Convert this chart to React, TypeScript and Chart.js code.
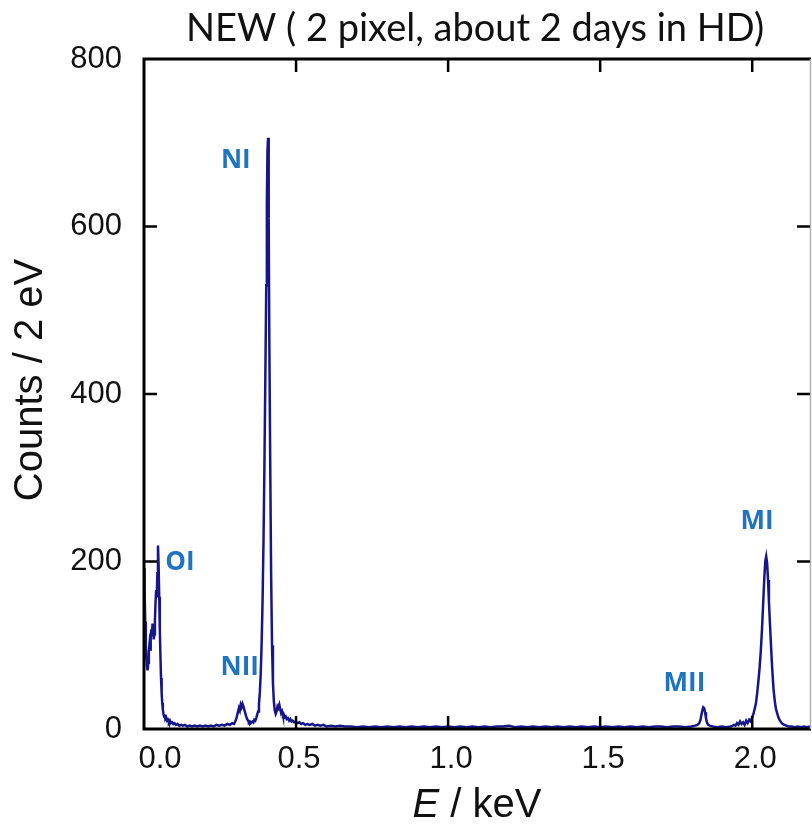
import React, { useEffect, useRef } from "react";
import { Chart, registerables } from "chart.js";
Chart.register(...registerables);

const chartTitle = "NEW ( 2 pixel, about 2 days in HD)";
const yAxisTitle = "Counts / 2 eV";
const xAxisTitleItalic = "E";
const xAxisTitleRest = " / keV";

const energyKeV = [
  0.000, 0.002, 0.004, 0.006, 0.008, 0.010, 0.012, 0.014, 0.016, 0.018,
  0.020, 0.022, 0.024, 0.026, 0.028, 0.030, 0.032, 0.034, 0.036, 0.038,
  0.040, 0.042, 0.044, 0.046, 0.048, 0.050, 0.052, 0.054, 0.056, 0.058,
  0.060, 0.062, 0.064, 0.066, 0.068, 0.070, 0.073, 0.076, 0.079, 0.082,
  0.085, 0.088, 0.092, 0.096, 0.100, 0.105, 0.110, 0.116, 0.122, 0.128,
  0.135, 0.142, 0.150, 0.158, 0.166, 0.175, 0.184, 0.193, 0.202, 0.211,
  0.220, 0.229, 0.238, 0.247, 0.256, 0.265, 0.274, 0.283, 0.290, 0.296,
  0.300, 0.304, 0.308, 0.312, 0.315, 0.318, 0.321, 0.324, 0.327, 0.330,
  0.333, 0.336, 0.339, 0.342, 0.345, 0.348, 0.351, 0.354, 0.357, 0.360,
  0.363, 0.366, 0.369, 0.372, 0.375, 0.378, 0.381, 0.384, 0.387, 0.390,
  0.393, 0.396, 0.399, 0.402, 0.404, 0.406, 0.408, 0.410, 0.412, 0.415,
  0.418, 0.421, 0.424, 0.427, 0.430, 0.433, 0.436, 0.439, 0.442, 0.445,
  0.448, 0.451, 0.454, 0.457, 0.460, 0.463, 0.466, 0.469, 0.473, 0.477,
  0.481, 0.485, 0.489, 0.494, 0.499, 0.505, 0.511, 0.517, 0.523, 0.530,
  0.537, 0.545, 0.553, 0.562, 0.571, 0.580, 0.590, 0.600, 0.615, 0.630,
  0.645, 0.660, 0.680, 0.700, 0.720, 0.740, 0.760, 0.780, 0.800, 0.820,
  0.840, 0.860, 0.880, 0.900, 0.920, 0.940, 0.960, 0.980, 1.000, 1.020,
  1.040, 1.060, 1.080, 1.100, 1.120, 1.140, 1.160, 1.180, 1.200, 1.220,
  1.240, 1.260, 1.280, 1.300, 1.320, 1.340, 1.360, 1.380, 1.400, 1.420,
  1.440, 1.460, 1.480, 1.500, 1.520, 1.540, 1.560, 1.580, 1.600, 1.620,
  1.640, 1.660, 1.680, 1.700, 1.720, 1.740, 1.760, 1.780, 1.800, 1.812,
  1.820, 1.826, 1.830, 1.833, 1.836, 1.839, 1.842, 1.845, 1.848, 1.851,
  1.855, 1.860, 1.870, 1.885, 1.900, 1.915, 1.930, 1.940, 1.945, 1.950,
  1.955, 1.960, 1.965, 1.970, 1.975, 1.980, 1.985, 1.990, 1.995, 2.000,
  2.004, 2.008, 2.012, 2.016, 2.020, 2.024, 2.028, 2.032, 2.036, 2.040,
  2.043, 2.046, 2.049, 2.052, 2.055, 2.058, 2.062, 2.066, 2.070, 2.074,
  2.078, 2.082, 2.086, 2.090, 2.095, 2.100, 2.106, 2.112, 2.120, 2.130,
  2.140, 2.150, 2.160, 2.170, 2.180, 2.190,
];

const counts = [
  192, 165, 128, 98, 84, 74, 70, 79, 93, 101,
  95, 110, 119, 111, 126, 121, 107, 113, 131, 152,
  166, 157, 186, 219, 196, 158, 118, 88, 61, 43,
  31, 23, 18, 15, 17, 12, 14, 10, 11, 8,
  10, 7, 8, 6, 7, 5, 6, 4, 5, 4,
  5, 3, 4, 3, 4, 3, 4, 3, 4, 3,
  4, 3, 5, 4, 5, 4, 6, 5, 7, 6,
  9, 13, 19, 25, 22, 29, 26, 30, 27, 23,
  19, 15, 12, 10, 8, 9, 7, 8, 9, 8,
  11, 10, 13, 17, 21, 30, 44, 68, 105, 155,
  225, 315, 420, 530, 628, 690, 706, 610, 470, 320,
  185, 100, 55, 33, 22, 18, 21, 27, 25, 29,
  24, 19, 21, 16, 17, 14, 15, 12, 13, 10,
  12, 9, 10, 8, 9, 7, 8, 6, 7, 5,
  6, 5, 6, 4, 5, 4, 5, 3, 4, 3,
  4, 3, 3, 2, 3, 2, 3, 2, 3, 2,
  3, 2, 3, 2, 3, 2, 3, 2, 3, 2,
  3, 2, 3, 2, 3, 2, 3, 3, 4, 2,
  3, 2, 3, 2, 3, 2, 3, 2, 3, 2,
  3, 2, 3, 2, 3, 2, 3, 2, 3, 2,
  3, 2, 3, 3, 2, 3, 3, 2, 3, 4,
  5, 7, 11, 17, 22, 26, 25, 20, 13, 8,
  5, 4, 3, 2, 3, 2, 3, 5, 4, 7,
  5, 9, 6, 8, 5, 10, 7, 11, 9, 14,
  18, 24, 30, 42, 56, 72, 92, 118, 150, 182,
  200, 206, 198, 178, 152, 128, 98, 70, 48, 34,
  24, 19, 14, 11, 8, 6, 5, 4, 3, 3,
  2, 3, 2, 3, 2, 3,
];

const xTickValues = [0, 0.5, 1.0, 1.5, 2.0];
const xTickLabels = ["0.0", "0.5", "1.0", "1.5", "2.0"];
const yTickValues = [0, 200, 400, 600, 800];
const yTickLabels = ["0", "200", "400", "600", "800"];

const peakNames = ["OI", "NII", "NI", "MII", "MI"];
const peakLabelKeV = [0.118, 0.315, 0.302, 1.777, 2.016];
const peakLabelCounts = [199, 73, 679, 54, 248];

const X_MIN = 0;
const X_MAX = 2.19;
const Y_MIN = 0;
const Y_MAX = 800;

export default function App() {
  const canvasRef = useRef<HTMLCanvasElement | null>(null);

  useEffect(() => {
    document.body.style.margin = "0";
    const canvas = canvasRef.current;
    if (!canvas) return;

    const overlay = {
      id: "overlay",
      afterDatasetsDraw(chart: any) {
        const ctx = chart.ctx as CanvasRenderingContext2D;
        const area = chart.chartArea;
        const xs = chart.scales.x;
        const ys = chart.scales.y;
        ctx.save();

        // frame
        ctx.strokeStyle = "#000";
        ctx.lineWidth = 3;
        ctx.beginPath();
        ctx.moveTo(area.left, area.top);
        ctx.lineTo(area.left, area.bottom);
        ctx.lineTo(area.right + 1, area.bottom);
        ctx.moveTo(area.left - 1.5, area.top);
        ctx.lineTo(area.right + 1, area.top);
        ctx.stroke();
        ctx.strokeStyle = "#b0b0b0";
        ctx.lineWidth = 1.5;
        ctx.beginPath();
        ctx.moveTo(area.right + 0.5, area.top);
        ctx.lineTo(area.right + 0.5, area.bottom);
        ctx.stroke();

        // ticks (inward)
        ctx.strokeStyle = "#000";
        ctx.lineWidth = 2.5;
        const tl = 13;
        ctx.beginPath();
        xTickValues.forEach((v) => {
          if (v === X_MIN) return;
          const px = xs.getPixelForValue(v);
          ctx.moveTo(px, area.bottom);
          ctx.lineTo(px, area.bottom - tl);
          ctx.moveTo(px, area.top);
          ctx.lineTo(px, area.top + tl);
        });
        yTickValues.forEach((v) => {
          if (v === Y_MIN || v === Y_MAX) return;
          const py = ys.getPixelForValue(v);
          ctx.moveTo(area.left, py);
          ctx.lineTo(area.left + tl, py);
          ctx.moveTo(area.right, py);
          ctx.lineTo(area.right - tl, py);
        });
        ctx.stroke();

        // tick labels
        ctx.fillStyle = "#111";
        ctx.font = "31px 'Liberation Sans', Arial, sans-serif";
        ctx.textAlign = "center";
        ctx.textBaseline = "middle";
        xTickValues.forEach((v, i) => {
          const px = xs.getPixelForValue(v) + (i === 0 ? 16 : 3);
          ctx.fillText(xTickLabels[i], px, area.bottom + 30);
        });
        ctx.textAlign = "right";
        yTickValues.forEach((v, i) => {
          const py = ys.getPixelForValue(v);
          ctx.fillText(yTickLabels[i], area.left - 22, py);
        });

        // x axis title with italic E
        ctx.textBaseline = "middle";
        ctx.textAlign = "left";
        const fItal = "italic 40px 'Liberation Sans', Arial, sans-serif";
        const fReg = "40px 'Liberation Sans', Arial, sans-serif";
        ctx.font = fItal;
        const wE = ctx.measureText(xAxisTitleItalic).width;
        ctx.font = fReg;
        const wR = ctx.measureText(xAxisTitleRest).width;
        const cx = (area.left + area.right) / 2;
        const startX = cx - (wE + wR) / 2;
        ctx.font = fItal;
        ctx.fillText(xAxisTitleItalic, startX, 806);
        ctx.font = fReg;
        ctx.fillText(xAxisTitleRest, startX + wE, 806);

        // y axis title
        ctx.save();
        ctx.translate(31, (area.top + area.bottom) / 2 - 14);
        ctx.rotate(-Math.PI / 2);
        ctx.textAlign = "center";
        ctx.textBaseline = "middle";
        ctx.font = "40px 'Liberation Sans', Arial, sans-serif";
        ctx.fillText(yAxisTitle, 0, 0);
        ctx.restore();

        // chart title
        ctx.textAlign = "center";
        ctx.textBaseline = "middle";
        ctx.font = "38px Lato, 'Open Sans', sans-serif";
        ctx.fillText(chartTitle, 475, 29);

        // peak labels
        ctx.fillStyle = "#1f74bf";
        ctx.font = "bold 26px 'Open Sans', Lato, sans-serif";
        peakNames.forEach((name, i) => {
          const px = xs.getPixelForValue(peakLabelKeV[i]);
          const py = ys.getPixelForValue(peakLabelCounts[i]);
          ctx.fillText(name, px, py);
        });

        ctx.restore();
      },
    };

    const chart = new Chart(canvas, {
      type: "scatter",
      data: {
        datasets: [
          {
            data: energyKeV.map((e, i) => ({ x: e, y: counts[i] })),
            showLine: true,
            borderColor: "#16168a",
            backgroundColor: "#16168a",
            borderWidth: 2.5,
            pointRadius: 0,
            tension: 0,
          },
        ],
      },
      options: {
        animation: false,
        responsive: true,
        maintainAspectRatio: false,
        layout: { padding: { top: 59, right: 2, left: 0, bottom: 0 } },
        plugins: {
          legend: { display: false },
          tooltip: { enabled: false },
          title: { display: false },
        },
        scales: {
          x: {
            type: "linear",
            min: X_MIN,
            max: X_MAX,
            afterFit: (s: any) => {
              s.height = 95;
            },
            ticks: { display: false, stepSize: 0.5 },
            grid: { display: false, drawTicks: false },
            border: { display: false },
          },
          y: {
            type: "linear",
            min: Y_MIN,
            max: Y_MAX,
            afterFit: (s: any) => {
              s.width = 144;
            },
            ticks: { display: false, stepSize: 200 },
            grid: { display: false, drawTicks: false },
            border: { display: false },
          },
        },
      },
      plugins: [overlay],
    });

    return () => chart.destroy();
  }, []);

  return (
    <div style={{ position: "absolute", left: 0, top: 0, width: 812, height: 824, background: "#fff" }}>
      <canvas ref={canvasRef} />
    </div>
  );
}
